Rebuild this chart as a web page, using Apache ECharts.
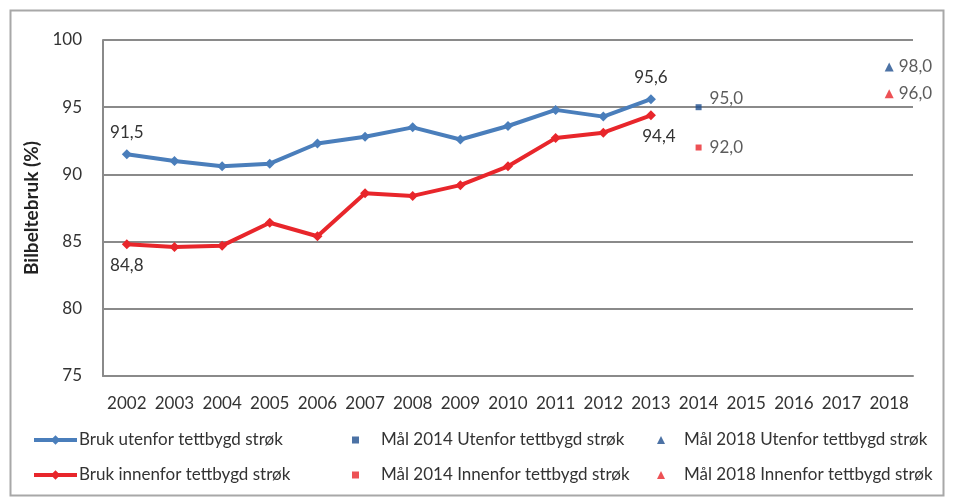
<!DOCTYPE html>
<html>
<head>
<meta charset="utf-8">
<script src="https://cdn.jsdelivr.net/npm/echarts@6/dist/echarts.min.js"></script>
<style>
  html, body { margin: 0; padding: 0; background: #fff; }
  #chart { width: 953px; height: 502px; }
</style>
</head>
<body>
<div id="chart"></div>
<script>
// Years on the category axis
const years = ['2002','2003','2004','2005','2006','2007','2008','2009','2010','2011','2012','2013','2014','2015','2016','2017','2018'];

// Observed seat-belt use (%)
const utenfor = [91.5, 91.0, 90.6, 90.8, 92.3, 92.8, 93.5, 92.6, 93.6, 94.8, 94.3, 95.6];
const innenfor = [84.8, 84.6, 84.7, 86.4, 85.4, 88.6, 88.4, 89.2, 90.6, 92.7, 93.1, 94.4];

// Targets
const maal2014Utenfor = 95.0;
const maal2014Innenfor = 92.0;
const maal2018Utenfor = 98.0;
const maal2018Innenfor = 96.0;

// Y axis ticks
const yMin = 75, yMax = 100, yStep = 5;

const FONT = 'Lato';
const BLUE = '#4a7ebb';
const RED = '#e8262b';
const NAVY = '#1f4f8f';
const fmt = v => v.toFixed(1).replace('.', ',');

// Label only the first and last observation of a line
function endLabels(values, posFirst, posLast, offLast) {
  return values.map((v, i) => {
    if (i === 0) return { value: v, label: { show: true, position: posFirst, distance: 8 } };
    if (i === values.length - 1) return { value: v, label: { show: true, position: posLast, distance: 8, offset: offLast || [0, 0] } };
    return v;
  });
}

const labelText = { fontFamily: FONT, fontSize: 17, color: '#333', formatter: p => fmt(Array.isArray(p.value) ? p.value[1] : p.value) };
const legendText = { fontFamily: FONT, fontSize: 17, color: '#333', lineHeight: 20 };

const chart = echarts.init(document.getElementById('chart'), null, { renderer: 'canvas' });

chart.setOption({
  backgroundColor: '#fff',
  animation: false,
  graphic: [{
    type: 'rect',
    shape: { x: 10.5, y: 10.5, width: 933, height: 485 },
    style: { fill: 'none', stroke: '#a8a8a8', lineWidth: 2 },
    silent: true
  }],
  grid: { left: 103, right: 40, top: 40, bottom: 126 },
  xAxis: {
    type: 'category',
    data: years,
    boundaryGap: true,
    axisLine: { show: true, lineStyle: { color: '#8a8a8a', width: 2 } },
    axisTick: { show: false },
    axisLabel: { fontFamily: FONT, fontSize: 17, color: '#333', margin: 19, interval: 0 }
  },
  yAxis: {
    type: 'value',
    min: yMin, max: yMax, interval: yStep,
    name: 'Bilbeltebruk (%)',
    nameLocation: 'middle',
    nameGap: 53,
    nameTextStyle: { fontFamily: FONT, fontSize: 19, fontWeight: 'bold', color: '#222' },
    axisLine: { show: true, lineStyle: { color: '#8a8a8a', width: 2 } },
    axisTick: { show: false },
    splitLine: { lineStyle: { color: '#8a8a8a', width: 2 } },
    axisLabel: { fontFamily: FONT, fontSize: 17, color: '#333', margin: 21 }
  },
  legend: [
    {
      left: 32, top: 430, orient: 'vertical', itemGap: 15, padding: 0,
      itemWidth: 43, itemHeight: 12,
      lineStyle: { width: 4 },
      textStyle: Object.assign({ padding: [0, 0, 0, -3] }, legendText),
      data: ['Bruk utenfor tettbygd strøk', 'Bruk innenfor tettbygd strøk']
    },
    {
      left: 352, top: 430, orient: 'vertical', itemGap: 15, padding: 0,
      itemWidth: 7, itemHeight: 7,
      textStyle: Object.assign({ padding: [0, 0, 0, 17] }, legendText),
      data: ['Mål 2014 Utenfor tettbygd strøk', 'Mål 2014 Innenfor tettbygd strøk']
    },
    {
      left: 657, top: 430, orient: 'vertical', itemGap: 15, padding: 0,
      itemWidth: 8, itemHeight: 8,
      textStyle: Object.assign({ padding: [0, 0, 0, 14] }, legendText),
      data: ['Mål 2018 Utenfor tettbygd strøk', 'Mål 2018 Innenfor tettbygd strøk']
    }
  ],
  series: [
    {
      name: 'Bruk utenfor tettbygd strøk',
      type: 'line',
      data: endLabels(utenfor, 'top', 'top'),
      color: BLUE,
      lineStyle: { width: 4, color: BLUE },
      symbol: 'diamond', symbolSize: 10,
      itemStyle: { color: BLUE },
      label: Object.assign({ show: false }, labelText)
    },
    {
      name: 'Bruk innenfor tettbygd strøk',
      type: 'line',
      data: endLabels(innenfor, 'bottom', 'bottom', [8, 0]),
      color: RED,
      lineStyle: { width: 4, color: RED },
      symbol: 'diamond', symbolSize: 10,
      itemStyle: { color: RED },
      label: Object.assign({ show: false }, labelText)
    },
    {
      name: 'Mål 2014 Utenfor tettbygd strøk',
      type: 'scatter',
      data: [['2014', maal2014Utenfor]],
      symbol: 'rect', symbolSize: 6,
      itemStyle: { color: NAVY },
      label: Object.assign({ show: true, position: 'right', distance: 8, offset: [0, -9] }, labelText)
    },
    {
      name: 'Mål 2014 Innenfor tettbygd strøk',
      type: 'scatter',
      data: [['2014', maal2014Innenfor]],
      symbol: 'rect', symbolSize: 6,
      itemStyle: { color: RED },
      label: Object.assign({ show: true, position: 'right', distance: 8 }, labelText)
    },
    {
      name: 'Mål 2018 Utenfor tettbygd strøk',
      type: 'scatter',
      data: [['2018', maal2018Utenfor]],
      symbol: 'triangle', symbolSize: 9,
      itemStyle: { color: NAVY },
      label: Object.assign({ show: true, position: 'right', distance: 5 }, labelText)
    },
    {
      name: 'Mål 2018 Innenfor tettbygd strøk',
      type: 'scatter',
      data: [['2018', maal2018Innenfor]],
      symbol: 'triangle', symbolSize: 9,
      itemStyle: { color: RED },
      label: Object.assign({ show: true, position: 'right', distance: 5 }, labelText)
    }
  ]
});
</script>
</body>
</html>
